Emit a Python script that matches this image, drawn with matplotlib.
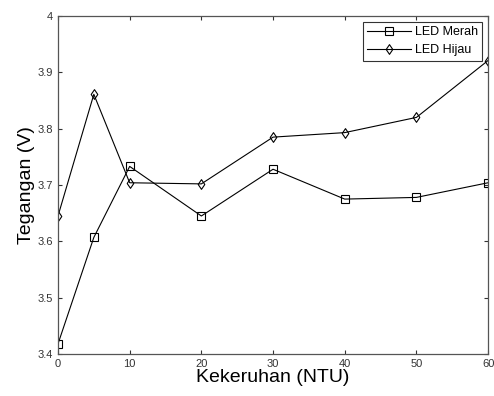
import matplotlib
matplotlib.use("Agg")
import matplotlib.pyplot as plt
from matplotlib.path import Path

plt.rcParams['font.family'] = ['Liberation Sans', 'DejaVu Sans']

ntu = [0, 5, 10, 20, 30, 40, 50, 60]
led_merah = [3.418, 3.607, 3.733, 3.645, 3.728, 3.675, 3.678, 3.704]
led_hijau = [3.645, 3.861, 3.704, 3.702, 3.785, 3.793, 3.820, 3.921]
xticks = [0, 10, 20, 30, 40, 50, 60]
yticks = [3.4, 3.5, 3.6, 3.7, 3.8, 3.9, 4.0]
yticklabels = ['3.4', '3.5', '3.6', '3.7', '3.8', '3.9', '4']

diamond = Path([(0, 1), (0.68, 0), (0, -1), (-0.68, 0), (0, 1)],
               [Path.MOVETO, Path.LINETO, Path.LINETO, Path.LINETO, Path.CLOSEPOLY])

fig = plt.figure(figsize=(4.94, 3.96), dpi=100)
ax = fig.add_axes([0.1174, 0.106, 0.8706, 0.8536])

ax.plot(ntu, led_merah, color='black', lw=0.8, marker='s', markersize=5.2,
        markerfacecolor='none', markeredgecolor='black', markeredgewidth=0.8,
        label='LED Merah')
ax.plot(ntu, led_hijau, color='black', lw=0.8, marker=diamond, markersize=7,
        markerfacecolor='none', markeredgecolor='black', markeredgewidth=0.8,
        label='LED Hijau')

ax.set_xlim(0, 60)
ax.set_ylim(3.4, 4.0)
ax.set_xticks(xticks)
ax.set_yticks(yticks)
ax.set_yticklabels(yticklabels)
ax.tick_params(direction='in', top=True, right=True, labelsize=8,
               colors='#333333', length=3, width=0.8)
for s in ax.spines.values():
    s.set_color('#555555')
    s.set_linewidth(0.9)

ax.set_xlabel('Kekeruhan (NTU)', fontsize=14, labelpad=0)
ax.set_ylabel('Tegangan (V)', fontsize=14, labelpad=2)

leg = ax.legend(loc='upper right', fontsize=9, frameon=True, fancybox=False,
                edgecolor='black', handlelength=3.5, borderaxespad=0.45,
                borderpad=0.35, labelspacing=0.5, handletextpad=0.3)
leg.get_frame().set_linewidth(0.8)

fig.savefig('out.png', dpi=100)
